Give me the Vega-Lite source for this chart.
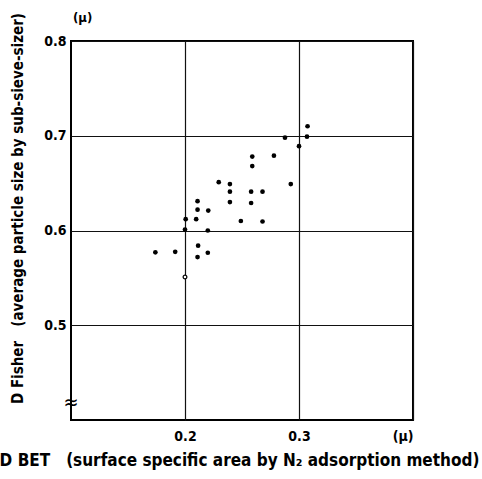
{
  "$schema": "https://vega.github.io/schema/vega-lite/v6.json",
  "autosize": "none",
  "width": 342,
  "height": 379,
  "padding": {"left": 71, "top": 41, "right": 69, "bottom": 59},
  "background": "white",
  "config": {
    "view": {"stroke": "black", "strokeWidth": 2},
    "font": "Liberation Sans Narrow, DejaVu Sans Condensed, sans-serif",
    "axis": {
      "domain": false,
      "ticks": false,
      "grid": true,
      "gridColor": "#111",
      "gridWidth": 1.2,
      "gridOpacity": 1,
      "labelFontSize": 14,
      "labelFontWeight": "bold",
      "labelColor": "black",
      "titleColor": "black",
      "titleFontWeight": "bold"
    }
  },
  "datasets": {
    "pts": [
      {"bet": 0.3075, "fisher": 0.710, "kind": "filled"},
      {"bet": 0.2877, "fisher": 0.698, "kind": "filled"},
      {"bet": 0.3070, "fisher": 0.699, "kind": "filled"},
      {"bet": 0.3000, "fisher": 0.689, "kind": "filled"},
      {"bet": 0.2590, "fisher": 0.678, "kind": "filled"},
      {"bet": 0.2780, "fisher": 0.679, "kind": "filled"},
      {"bet": 0.2590, "fisher": 0.668, "kind": "filled"},
      {"bet": 0.2296, "fisher": 0.651, "kind": "filled"},
      {"bet": 0.2394, "fisher": 0.649, "kind": "filled"},
      {"bet": 0.2928, "fisher": 0.649, "kind": "filled"},
      {"bet": 0.2394, "fisher": 0.641, "kind": "filled"},
      {"bet": 0.2580, "fisher": 0.641, "kind": "filled"},
      {"bet": 0.2680, "fisher": 0.641, "kind": "filled"},
      {"bet": 0.2394, "fisher": 0.630, "kind": "filled"},
      {"bet": 0.2580, "fisher": 0.629, "kind": "filled"},
      {"bet": 0.2110, "fisher": 0.631, "kind": "filled"},
      {"bet": 0.2110, "fisher": 0.622, "kind": "filled"},
      {"bet": 0.2204, "fisher": 0.621, "kind": "filled"},
      {"bet": 0.2006, "fisher": 0.612, "kind": "filled"},
      {"bet": 0.2098, "fisher": 0.612, "kind": "filled"},
      {"bet": 0.2490, "fisher": 0.610, "kind": "filled"},
      {"bet": 0.2680, "fisher": 0.6095, "kind": "filled"},
      {"bet": 0.2000, "fisher": 0.601, "kind": "filled"},
      {"bet": 0.2200, "fisher": 0.600, "kind": "filled"},
      {"bet": 0.1740, "fisher": 0.577, "kind": "filled"},
      {"bet": 0.1914, "fisher": 0.5775, "kind": "filled"},
      {"bet": 0.2115, "fisher": 0.584, "kind": "filled"},
      {"bet": 0.2200, "fisher": 0.5765, "kind": "filled"},
      {"bet": 0.2110, "fisher": 0.572, "kind": "filled"},
      {"bet": 0.2000, "fisher": 0.551, "kind": "open"}
    ],
    "notes": [
      {"bet": 0.1, "fisher": 0.418, "txt": "≈", "role": "break"},
      {"bet": 0.1, "fisher": 0.8, "txt": "(μ)", "role": "unit"}
    ]
  },
  "layer": [
    {
      "data": {"name": "pts"},
      "transform": [{"filter": "datum.kind == 'filled'"}],
      "mark": {"type": "circle", "color": "black", "opacity": 1, "size": 22},
      "encoding": {
        "x": {
          "field": "bet",
          "type": "quantitative",
          "scale": {"domain": [0.1, 0.4], "nice": false, "zero": false},
          "axis": {
            "values": [0.2, 0.3, 0.4],
            "labelExpr": "datum.value > 0.39 ? '(μ)' : format(datum.value, '.1f')",
            "labelPadding": 9,
            "title": "D BET\u00a0\u00a0 (surface specific area by N₂ adsorption method)",
            "titleFontSize": 17,
            "titlePadding": 9,
            "titleX": 168
          }
        },
        "y": {
          "field": "fisher",
          "type": "quantitative",
          "scale": {"domain": [0.4, 0.8], "nice": false, "zero": false},
          "axis": {
            "values": [0.5, 0.6, 0.7, 0.8],
            "format": ".1f",
            "labelPadding": 5,
            "title": "D Fisher\u00a0\u00a0 (average particle size by sub-sieve-sizer)",
            "titleFontSize": 15,
            "titleAngle": -90,
            "titleX": -54,
            "titleY": 167,
            "titleAlign": "center",
            "titleBaseline": "middle"
          }
        }
      }
    },
    {
      "data": {"name": "pts"},
      "transform": [{"filter": "datum.kind == 'open'"}],
      "mark": {"type": "point", "shape": "circle", "filled": true, "fill": "white", "stroke": "black", "strokeWidth": 1.2, "size": 14, "opacity": 1},
      "encoding": {
        "x": {"field": "bet", "type": "quantitative"},
        "y": {"field": "fisher", "type": "quantitative"}
      }
    },
    {
      "data": {"name": "notes"},
      "transform": [{"filter": "datum.role == 'break'"}],
      "mark": {"type": "text", "fontSize": 20, "fontWeight": "normal", "color": "black", "align": "center", "baseline": "middle"},
      "encoding": {
        "x": {"field": "bet", "type": "quantitative"},
        "y": {"field": "fisher", "type": "quantitative"},
        "text": {"field": "txt"}
      }
    },
    {
      "data": {"name": "notes"},
      "transform": [{"filter": "datum.role == 'unit'"}],
      "mark": {"type": "text", "fontSize": 13, "fontWeight": "bold", "color": "black", "align": "left", "baseline": "middle", "dx": 2, "dy": -23},
      "encoding": {
        "x": {"field": "bet", "type": "quantitative"},
        "y": {"field": "fisher", "type": "quantitative"},
        "text": {"field": "txt"}
      }
    }
  ]
}
